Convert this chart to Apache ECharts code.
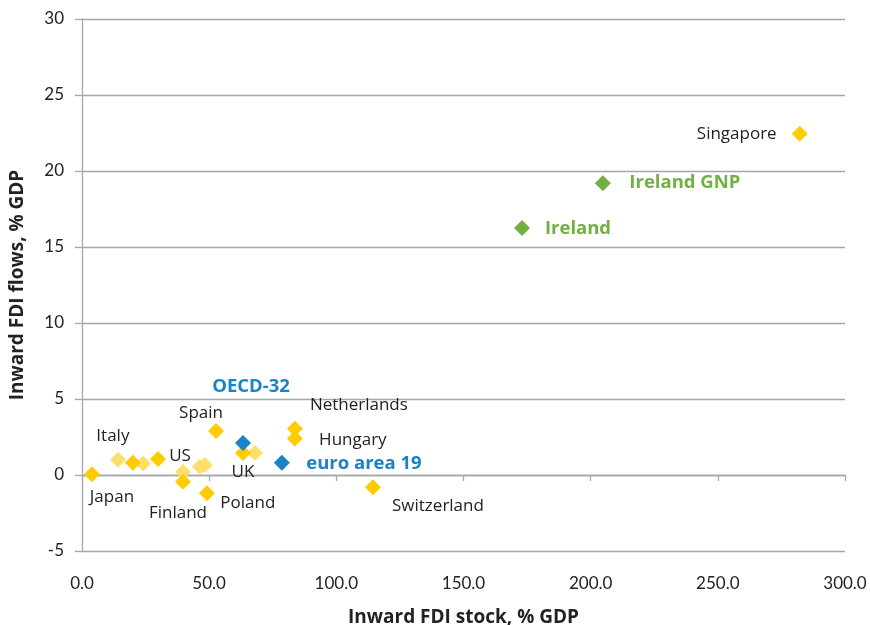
<!DOCTYPE html>
<html>
<head>
<meta charset="utf-8">
<script src="https://cdn.jsdelivr.net/npm/echarts@6/dist/echarts.min.js"></script>
<style>
  html, body { margin: 0; padding: 0; background: #fff; }
  #chart { width: 870px; height: 625px; }
</style>
</head>
<body>
<div id="chart"></div>
<script>
// labelled countries (yellow)
const countryNames = ['Japan', 'Italy', 'US', 'Finland', 'Poland', 'Spain', 'UK', 'Netherlands', 'Hungary', 'Switzerland', 'Singapore'];
const countryStock = [3.9, 20.0, 29.9, 39.7, 49.1, 52.7, 63.3, 83.7, 83.7, 114.4, 282.2];
const countryFlows = [0.05, 0.8, 1.05, -0.45, -1.2, 2.9, 1.45, 3.05, 2.4, -0.8, 22.45];

// other countries, no labels (light yellow)
const otherStock = [14.2, 24.0, 39.7, 46.4, 48.3, 68.0];
const otherFlows = [1.0, 0.75, 0.2, 0.55, 0.65, 1.45];

// aggregates (blue)
const aggNames = ['OECD-32', 'euro area 19'];
const aggStock = [63.3, 78.6];
const aggFlows = [2.1, 0.8];

// Ireland (green)
const irlNames = ['Ireland', 'Ireland GNP'];
const irlStock = [173.0, 204.8];
const irlFlows = [16.25, 19.2];

// label offsets (px) from each marker centre
const labelOffsets = {
  'Japan': [20, 23], 'Italy': [-20, -27], 'US': [22, -3], 'Finland': [-5, 31],
  'Poland': [41, 10], 'Spain': [-15, -18], 'UK': [0, 19], 'Netherlands': [64, -23],
  'Hungary': [58, 2], 'Switzerland': [65, 19], 'Singapore': [-63, 0],
  'OECD-32': [8, -56], 'euro area 19': [82, 1], 'Ireland': [56, 1], 'Ireland GNP': [82, 0]
};

const font = 'Open Sans';

function pts(names, xs, ys, bold, color) {
  return xs.map((x, i) => {
    const p = { value: [x, ys[i]] };
    if (names) {
      p.name = names[i];
      p.label = {
        show: true, formatter: names[i], position: 'inside',
        offset: labelOffsets[names[i]],
        color: color, fontFamily: font, fontSize: bold ? 18.5 : 17,
        fontWeight: bold ? 'bold' : 'normal'
      };
    }
    return p;
  });
}

const chart = echarts.init(document.getElementById('chart'));

chart.setOption({
  animation: false,
  grid: { left: 82, right: 25, top: 19, bottom: 74, containLabel: false, outerBoundsMode: 'none' },
  xAxis: [{
    type: 'value', min: 0, max: 300, interval: 50,
    axisLine: { show: false, onZero: false },
    axisTick: { show: false },
    splitLine: { show: false },
    axisLabel: { margin: 24, color: '#222', fontFamily: 'Lato', fontSize: 17, formatter: v => v.toFixed(1) },
    name: 'Inward FDI stock, % GDP', nameLocation: 'middle', nameGap: 57,
    nameTextStyle: { color: '#222', fontFamily: font, fontSize: 19, fontWeight: 'bold' }
  }, {
    type: 'value', min: 0, max: 300, interval: 50, position: 'top',
    axisLine: { show: true, onZero: true, lineStyle: { color: '#a6a6a6', width: 1.3 } },
    axisTick: { show: true, inside: true, length: 6, lineStyle: { color: '#a6a6a6', width: 1.3 } },
    axisLabel: { show: false },
    splitLine: { show: false }
  }],
  yAxis: {
    type: 'value', min: -5, max: 30, interval: 5,
    axisLine: { show: true, onZero: false, lineStyle: { color: '#a6a6a6', width: 1.3 } },
    axisTick: { show: true, length: 7, lineStyle: { color: '#a6a6a6', width: 1.3 } },
    splitLine: { show: true, lineStyle: { color: '#a6a6a6', width: 1.3 } },
    axisLabel: { margin: 18, color: '#222', fontFamily: 'Lato', fontSize: 17 },
    name: 'Inward FDI flows, % GDP', nameLocation: 'middle', nameGap: 55, nameRotate: 90,
    nameTextStyle: { color: '#222', fontFamily: font, fontSize: 19, fontWeight: 'bold' }
  },
  series: [{
    type: 'scatter', symbol: 'diamond', symbolSize: 16,
    itemStyle: { color: '#ffdf6b', opacity: 1 },
    data: pts(null, otherStock, otherFlows)
  }, {
    type: 'scatter', symbol: 'diamond', symbolSize: 16,
    itemStyle: { color: '#ffcc00', opacity: 1 },
    data: pts(countryNames, countryStock, countryFlows, false, '#222')
  }, {
    type: 'scatter', symbol: 'diamond', symbolSize: 16,
    itemStyle: { color: '#1a82c6', opacity: 1 },
    data: pts(aggNames, aggStock, aggFlows, true, '#1a82c6')
  }, {
    type: 'scatter', symbol: 'diamond', symbolSize: 16,
    itemStyle: { color: '#72b043', opacity: 1 },
    data: pts(irlNames, irlStock, irlFlows, true, '#72b043')
  }]
});
</script>
</body>
</html>
